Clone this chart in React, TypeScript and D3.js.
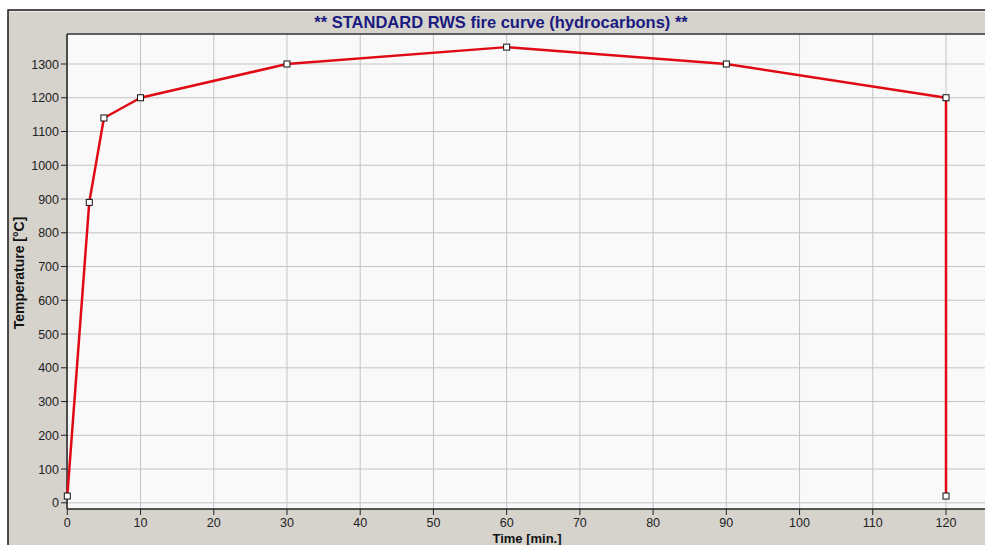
import React from "react";
import * as d3 from "d3";

const timeMin: number[] = [0, 3, 5, 10, 30, 60, 90, 120, 120];
const temperatureC: number[] = [20, 890, 1140, 1200, 1300, 1350, 1300, 1200, 20];
const xTicks: number[] = [0, 10, 20, 30, 40, 50, 60, 70, 80, 90, 100, 110, 120];
const yTicks: number[] = [0, 100, 200, 300, 400, 500, 600, 700, 800, 900, 1000, 1100, 1200, 1300];
const title = "** STANDARD RWS fire curve (hydrocarbons) **";
const xTitle = "Time [min.]";
const yTitle = "Temperature [°C]";

const W = 985;
const H = 545;
const plotL = 67;
const plotT = 34;
const plotR = 990;
const plotB = 509;

export default function App() {
  const x = d3.scaleLinear().domain([0, 120]).range([67.3, 946]);
  const y = d3.scaleLinear().domain([0, 1300]).range([502.8, 64]);
  const pts = timeMin.map((t, i) => [x(t), y(temperatureC[i])] as [number, number]);
  const line = d3.line()(pts) || "";
  const font = "Arial, 'Liberation Sans', sans-serif";
  return (
    <svg width={W} height={H} style={{ position: "absolute", left: 0, top: 0 }} fontFamily={font}>
      <rect x={0} y={0} width={W} height={H} fill="#ffffff" />
      <rect x={8} y={10} width={W} height={H} fill="#d6d3cd" stroke="#1a1a1a" strokeWidth={1.5} />
      <line x1={9} x2={W} y1={11.5} y2={11.5} stroke="#eeece8" strokeWidth={1} />
      <text x={501} y={28} textAnchor="middle" fontSize={16.5} fontWeight="bold" fill="#1a1a80">
        {title}
      </text>
      <rect x={plotL} y={plotT} width={plotR - plotL} height={plotB - plotT} fill="#f9f9f9" />
      {xTicks.map((t) => (
        <line key={"gx" + t} x1={x(t)} x2={x(t)} y1={plotT} y2={plotB} stroke="#c4c4c4" strokeWidth={1} />
      ))}
      {yTicks.map((t) => (
        <line key={"gy" + t} x1={plotL} x2={plotR} y1={y(t)} y2={y(t)} stroke="#c4c4c4" strokeWidth={1} />
      ))}
      <line x1={plotL} x2={plotR} y1={plotT} y2={plotT} stroke="#333" strokeWidth={1.5} />
      <line x1={plotL} x2={plotL} y1={plotT} y2={plotB} stroke="#222" strokeWidth={1.5} />
      <line x1={plotL} x2={plotR} y1={plotB} y2={plotB} stroke="#222" strokeWidth={1.5} />
      {yTicks.map((t) => (
        <g key={"ty" + t}>
          <line x1={plotL - 6} x2={plotL} y1={y(t)} y2={y(t)} stroke="#222" />
          <text x={plotL - 8} y={y(t) + 4.5} textAnchor="end" fontSize={12.5} fill="#222">
            {t}
          </text>
        </g>
      ))}
      {xTicks.map((t) => (
        <g key={"tx" + t}>
          <line x1={x(t)} x2={x(t)} y1={plotB} y2={plotB + 6} stroke="#222" />
          <text x={x(t)} y={plotB + 18} textAnchor="middle" fontSize={12.5} fill="#222">
            {t}
          </text>
        </g>
      ))}
      <text x={527} y={543} textAnchor="middle" fontSize={13} fontWeight="bold" fill="#111">
        {xTitle}
      </text>
      <text
        transform={`translate(24,273) rotate(-90)`}
        textAnchor="middle"
        fontSize={14}
        fontWeight="bold"
        fill="#111"
      >
        {yTitle}
      </text>
      <path d={line} fill="none" stroke="#e00a14" strokeWidth={2.5} strokeLinejoin="round" />
      {pts.map((p, i) => (
        <rect key={"m" + i} x={p[0] - 3} y={p[1] - 3} width={6} height={6} fill="#fff" stroke="#111" strokeWidth={1} />
      ))}
    </svg>
  );
}
